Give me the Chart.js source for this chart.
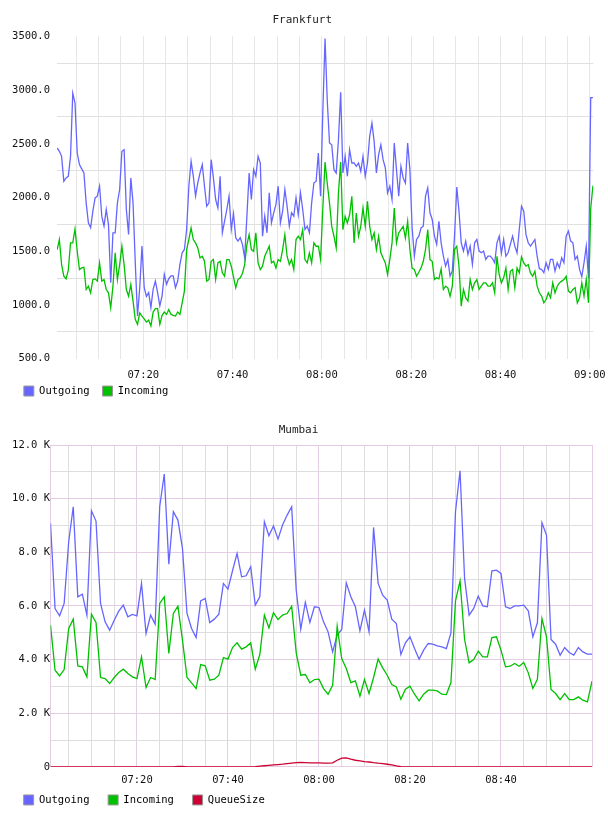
<!DOCTYPE html>
<html>
<head>
<meta charset="utf-8">
<title>Frankfurt / Mumbai</title>
<script src="https://cdn.jsdelivr.net/npm/chart.js@4.4.1/dist/chart.umd.min.js"></script>
<style>
  html, body { margin: 0; padding: 0; background: #fff; }
  canvas { display: block; }
</style>
</head>
<body>
<canvas id="chartFrankfurt" width="608" height="410"></canvas>
<canvas id="chartMumbai" width="608" height="406"></canvas>
<script>
// x values are minutes after 07:00

// Frankfurt: one sample every 30 s
const frankfurtStart = 0.7;
const frankfurtStep = 0.5;
const frankfurtOutgoing = [
  2461, 2430, 2383, 2151, 2182, 2197, 2383, 2971, 2879, 2414,
  2306, 2266, 2228, 1950, 1764, 1718, 1872, 1996, 2012, 2105,
  1826, 1733, 1888, 1748, 1207, 1671, 1671, 1950, 2074, 2430,
  2445, 1888, 1656, 2182, 1950, 1392, 897, 1160, 1547, 1160,
  1080, 1114, 974, 1145, 1222, 1114, 990, 1083, 1284, 1191,
  1244, 1269, 1269, 1160, 1222, 1377, 1485, 1516, 1702, 2105,
  2337, 2197, 2012, 2135, 2228, 2306, 2105, 1919, 1950, 2352,
  2182, 1981, 1903, 2197, 1671, 1779, 1888, 2012, 1702, 1850,
  1625, 1594, 1625, 1563, 1439, 1826, 2228, 1981, 2259, 2197,
  2383, 2321, 1640, 1826, 1671, 2043, 1764, 1857, 1934, 2105,
  1764, 1872, 2074, 1919, 1733, 1857, 1826, 1996, 1841, 2043,
  1888, 1702, 1733, 1671, 1950, 2135, 2151, 2414, 2012, 2800,
  3480, 2900, 2507, 2491, 2259, 2228, 2538, 2980, 2228, 2383,
  2197, 2445, 2321, 2321, 2290, 2321, 2244, 2383, 2197, 2321,
  2569, 2693, 2522, 2228, 2399, 2491, 2352, 2275, 2043, 2105,
  1981, 2507, 2259, 2012, 2290, 2182, 2135, 2507, 2259, 1720,
  1454, 1609, 1640, 1717, 1733, 2012, 2089, 1857, 1795, 1640,
  1563, 1779, 1578, 1454, 1361, 1423, 1268, 1315, 1640, 2098,
  1872, 1578, 1501, 1594, 1470, 1547, 1377, 1578, 1609, 1501,
  1485, 1501, 1423, 1454, 1454, 1430, 1392, 1578, 1640, 1480,
  1609, 1454, 1485, 1563, 1640, 1547, 1485, 1702, 1919, 1872,
  1656, 1578, 1547, 1578, 1609, 1454, 1337, 1330, 1299, 1392,
  1330, 1423, 1423, 1315, 1392, 1346, 1439, 1392, 1640, 1687,
  1594, 1578, 1423, 1454, 1330, 1262, 1392, 1547, 1250, 2930,
  2930,
];
const frankfurtIncoming = [
  1515, 1608, 1375, 1267, 1242, 1323, 1577, 1577, 1707, 1499,
  1329, 1344, 1350, 1143, 1174, 1112, 1236, 1242, 1221, 1391,
  1221, 1236, 1143, 1112, 973, 1174, 1484, 1236, 1375, 1546,
  1375, 1143, 1081, 1190, 1035, 865, 818, 926, 895, 870,
  840, 858, 803, 933, 964, 964, 818, 902, 933, 911,
  957, 911, 902, 896, 933, 911, 1019, 1128, 1515, 1608,
  1716, 1608, 1577, 1530, 1437, 1453, 1406, 1221, 1236, 1406,
  1422, 1236, 1391, 1406, 1298, 1267, 1422, 1422, 1360, 1260,
  1159, 1236, 1252, 1292, 1375, 1561, 1654, 1515, 1499, 1670,
  1391, 1329, 1360, 1453, 1499, 1546, 1391, 1406, 1344, 1422,
  1406, 1515, 1654, 1453, 1375, 1422, 1329, 1608, 1639, 1608,
  1700, 1422, 1391, 1484, 1391, 1577, 1546, 1546, 1422, 1900,
  2330, 2130, 1948, 1731, 1639, 1530, 2041, 2330, 1700, 1824,
  1762, 1839, 2010, 1577, 1855, 1639, 1731, 1902, 1731, 1964,
  1731, 1608, 1670, 1515, 1639, 1484, 1437, 1391, 1283, 1422,
  1577, 1902, 1577, 1670, 1700, 1731, 1623, 1778, 1515, 1340,
  1329, 1267, 1304, 1344, 1406, 1515, 1700, 1422, 1406, 1236,
  1252, 1242, 1335, 1143, 1174, 1159, 1081, 1174, 1515, 1546,
  1360, 988, 1143, 1066, 1035, 1236, 1143, 1205, 1236, 1143,
  1174, 1205, 1205, 1174, 1174, 1205, 1112, 1453, 1282, 1205,
  1252, 1344, 1143, 1313, 1329, 1159, 1344, 1298, 1447, 1391,
  1360, 1375, 1298, 1267, 1313, 1174, 1112, 1081, 1019, 1050,
  1112, 1066, 1205, 1112, 1174, 1205, 1221, 1236, 1267, 1128,
  1112, 1143, 1159, 1019, 1066, 1205, 1081, 1236, 1019, 1900,
  2110,
];
const frankfurtXMin = 0.67;
const frankfurtXMax = 120.8;
const frankfurtXTicks = [5, 10, 15, 20, 25, 30, 35, 40, 45, 50, 55, 60, 65, 70, 75, 80, 85, 90, 95, 100, 105, 110, 115, 120];
const frankfurtXLabels = [20, 40, 60, 80, 100, 120];
const frankfurtYTicks = [500, 750, 1000, 1250, 1500, 1750, 2000, 2250, 2500, 2750, 3000, 3250, 3500];

// Mumbai: one sample per minute
const mumbaiStart = 1;
const mumbaiStep = 1;
const mumbaiOutgoing = [
  9078, 5907, 5633, 6093, 8394, 9699, 6342, 6441, 5658, 9550,
  9165, 6093, 5409, 5098, 5471, 5807, 6031, 5595, 5683, 5633,
  6839, 4974, 5658, 5322, 9699, 10918, 7560, 9513, 9202, 8145,
  5720, 5160, 4825, 6193, 6280, 5384, 5509, 5695, 6839, 6628,
  7312, 7958, 7088, 7125, 7461, 6031, 6342, 9140, 8617, 8978,
  8493, 9015, 9388, 9699, 6591, 5136, 6131, 5384, 5969, 5944,
  5409, 5036, 4290, 4912, 5123, 6864, 6342, 5969, 5073, 5844,
  5036, 8928, 6839, 6404, 6218, 5509, 5347, 4191, 4626, 4850,
  4414, 4017, 4352, 4601, 4576, 4514, 4477, 4414, 4999, 9513,
  11042, 7026, 5658, 5907, 6367, 6006, 5969, 7312, 7337, 7212,
  5969, 5907, 6006, 6006, 6031, 5820, 4850, 5372, 9102, 8642,
  4750, 4576, 4166, 4452, 4265, 4166, 4452, 4290, 4203, 4203,
];
const mumbaiIncoming = [
  5285, 3606, 3395, 3631, 5160, 5509, 3768, 3730, 3357, 5695,
  5384, 3333, 3295, 3109, 3333, 3519, 3643, 3482, 3357, 3295,
  4104, 2960, 3333, 3258, 6093, 6342, 4228, 5720, 5994, 4725,
  3333, 3134, 2922, 3817, 3768, 3233, 3270, 3420, 4079, 4017,
  4452, 4626, 4390, 4477, 4626, 3643, 4191, 5658, 5185, 5745,
  5496, 5658, 5720, 5994, 4253, 3420, 3445, 3134, 3258, 3270,
  2922, 2711, 3047, 5248, 4041, 3668, 3146, 3208, 2636, 3258,
  2736, 3333, 4017, 3693, 3420, 3071, 2984, 2524, 2897, 3009,
  2711, 2462, 2711, 2860, 2860, 2835, 2711, 2698, 3146, 6180,
  6939, 4750, 3880, 4004, 4315, 4104, 4104, 4825, 4850, 4352,
  3730, 3755, 3855, 3755, 3892, 3507, 2922, 3270, 5534, 4850,
  2885, 2736, 2512, 2736, 2512, 2512, 2611, 2487, 2425, 3196,
];
const mumbaiQueueSize = [
  0, 0, 0, 0, 0, 0, 0, 0, 0, 0,
  0, 0, 0, 0, 0, 0, 0, 0, 0, 0,
  0, 0, 0, 0, 0, 0, 0, 0, 25, 20,
  0, 0, 0, 0, 0, 0, 0, 0, 0, 0,
  0, 0, 0, 0, 5, 15, 30, 45, 60, 75,
  90, 105, 125, 145, 160, 165, 160, 155, 150, 150,
  145, 140, 150, 250, 330, 335, 290, 250, 225, 200,
  185, 160, 140, 125, 100, 75, 40, 10, 0, 0,
  0, 0, 0, 0, 0, 0, 0, 0, 0, 0,
  0, 0, 0, 0, 0, 0, 0, 0, 0, 0,
  0, 0, 0, 0, 0, 0, 0, 0, 0, 0,
  0, 0, 0, 0, 0, 0, 0, 0, 0, 0,
];
const mumbaiXMin = 1;
const mumbaiXMax = 120;
const mumbaiXTicks = [1, 5, 10, 15, 20, 25, 30, 35, 40, 45, 50, 55, 60, 65, 70, 75, 80, 85, 90, 95, 100, 105, 110, 115, 120];
const mumbaiXLabels = [20, 40, 60, 80, 100];
const mumbaiYTicks = [0, 1000, 2000, 3000, 4000, 5000, 6000, 7000, 8000, 9000, 10000, 11000, 12000];

const FONT = '"DejaVu Sans Mono", "Liberation Mono", monospace';
const COLOR_OUT = "#6666ff";
const COLOR_IN = "#00c000";
const COLOR_QUEUE = "#cc0033";

Chart.defaults.font.family = FONT;
Chart.defaults.font.size = 10.5;
Chart.defaults.color = "#111";

function toPoints(values, start, step) {
  return values.map((v, i) => ({ x: start + i * step, y: v }));
}

function hhmm(min) {
  const h = 7 + Math.floor(min / 60);
  const m = Math.round(min % 60);
  return String(h).padStart(2, "0") + ":" + String(m).padStart(2, "0");
}

function lineDataset(label, values, start, step, color, order) {
  return {
    label: label,
    data: toPoints(values, start, step),
    borderColor: color,
    backgroundColor: color,
    borderWidth: 1.3,
    pointRadius: 0,
    tension: 0,
    fill: false,
    order: order,
  };
}

function boxLegend(padding) {
  return {
    position: "bottom",
    align: "start",
    labels: {
      boxWidth: 10,
      boxHeight: 10,
      padding: padding,
      color: "#222",
      font: { family: FONT, size: 10.5 },
      generateLabels: (chart) =>
        chart.data.datasets.map((ds, i) => ({
          text: ds.label,
          fillStyle: ds.borderColor,
          strokeStyle: "#999",
          lineWidth: 1,
          hidden: false,
          datasetIndex: i,
        })),
    },
  };
}

function titleOpts(text, bottom) {
  return {
    display: true,
    text: text,
    color: "#222",
    font: { family: FONT, size: 11, weight: "normal" },
    padding: { top: 13.4, bottom: bottom },
  };
}

function fixedTicks(list) {
  return (axis) => {
    axis.ticks = list.map((v) => ({ value: v }));
  };
}

// fixed x axis height; no side room reserved for the end labels
function xAxisFit(height) {
  return (axis) => {
    axis.height = height;
    axis.paddingLeft = 0;
    axis.paddingRight = 0;
  };
}

// the x axis box is kept short so the legend sits close under it;
// let its tick labels draw below that box instead of being clipped
const tickLabelRoom = {
  id: "tickLabelRoom",
  afterLayout(chart) {
    const x = chart.scales.x;
    x.bottom = x.top + 30;
  },
};

// Frankfurt
new Chart(document.getElementById("chartFrankfurt"), {
  type: "line",
  data: {
    datasets: [
      lineDataset("Outgoing", frankfurtOutgoing, frankfurtStart, frankfurtStep, COLOR_OUT, 2),
      lineDataset("Incoming", frankfurtIncoming, frankfurtStart, frankfurtStep, COLOR_IN, 1),
    ],
  },
  plugins: [tickLabelRoom],
  options: {
    responsive: false,
    animation: false,
    devicePixelRatio: 1,
    events: [],
    layout: { padding: { left: 11, right: 14.6, top: 0, bottom: 3.7 } },
    plugins: {
      title: titleOpts("Frankfurt", 9.8),
      legend: boxLegend(12.85),
      tooltip: { enabled: false },
    },
    scales: {
      x: {
        type: "linear",
        min: frankfurtXMin,
        max: frankfurtXMax,
        afterBuildTicks: fixedTicks(frankfurtXTicks),
        afterFit: xAxisFit(14.4),
        border: { display: false },
        grid: { color: "#e6e6e6", drawTicks: false },
        ticks: {
          autoSkip: false,
          maxRotation: 0,
          padding: 10,
          color: "#111",
          callback: (v) => (frankfurtXLabels.includes(v) ? hhmm(v) : ""),
        },
      },
      y: {
        type: "linear",
        min: 500,
        max: 3500,
        afterBuildTicks: fixedTicks(frankfurtYTicks),
        afterFit: (axis) => { axis.width = 46; },
        border: { display: false },
        grid: {
          drawTicks: false,
          color: (ctx) => (ctx.tick && ctx.tick.value % 500 === 0 ? "rgba(0,0,0,0)" : "#e0e0e0"),
        },
        ticks: {
          autoSkip: false,
          padding: 7,
          color: "#111",
          callback: (v) => (v % 500 === 0 ? v.toFixed(1) : ""),
        },
      },
    },
  },
});

// Mumbai
const MAJOR = "#e4cde4";
const MINOR = "#dedede";

new Chart(document.getElementById("chartMumbai"), {
  type: "line",
  data: {
    datasets: [
      lineDataset("Outgoing", mumbaiOutgoing, mumbaiStart, mumbaiStep, COLOR_OUT, 2),
      lineDataset("Incoming", mumbaiIncoming, mumbaiStart, mumbaiStep, COLOR_IN, 1),
      lineDataset("QueueSize", mumbaiQueueSize, mumbaiStart, mumbaiStep, COLOR_QUEUE, 0),
    ],
  },
  plugins: [tickLabelRoom],
  options: {
    responsive: false,
    animation: false,
    devicePixelRatio: 1,
    events: [],
    layout: { padding: { left: 5, right: 16, top: 0, bottom: 0.8 } },
    plugins: {
      title: titleOpts("Mumbai", 8.4),
      legend: boxLegend(18.65),
      tooltip: { enabled: false },
    },
    scales: {
      x: {
        type: "linear",
        min: mumbaiXMin,
        max: mumbaiXMax,
        afterBuildTicks: fixedTicks(mumbaiXTicks),
        afterFit: xAxisFit(9.1),
        border: { display: false },
        grid: {
          drawTicks: false,
          color: (ctx) => {
            const v = ctx.tick ? ctx.tick.value : 0;
            return v === mumbaiXMin || v % 20 === 0 ? MAJOR : MINOR;
          },
        },
        ticks: {
          autoSkip: false,
          maxRotation: 0,
          padding: 6.7,
          color: "#111",
          callback: (v) => (mumbaiXLabels.includes(v) ? hhmm(v) : ""),
        },
      },
      y: {
        type: "linear",
        min: 0,
        max: 12000,
        afterBuildTicks: fixedTicks(mumbaiYTicks),
        afterFit: (axis) => { axis.width = 45.5; },
        border: { display: false },
        grid: {
          drawTicks: false,
          color: (ctx) => (ctx.tick && ctx.tick.value % 2000 === 0 ? MAJOR : MINOR),
        },
        ticks: {
          autoSkip: false,
          padding: 0.5,
          color: "#111",
          callback: (v) => (v % 2000 !== 0 ? "" : v === 0 ? "0" : (v / 1000).toFixed(1) + " K"),
        },
      },
    },
  },
});
</script>
</body>
</html>
